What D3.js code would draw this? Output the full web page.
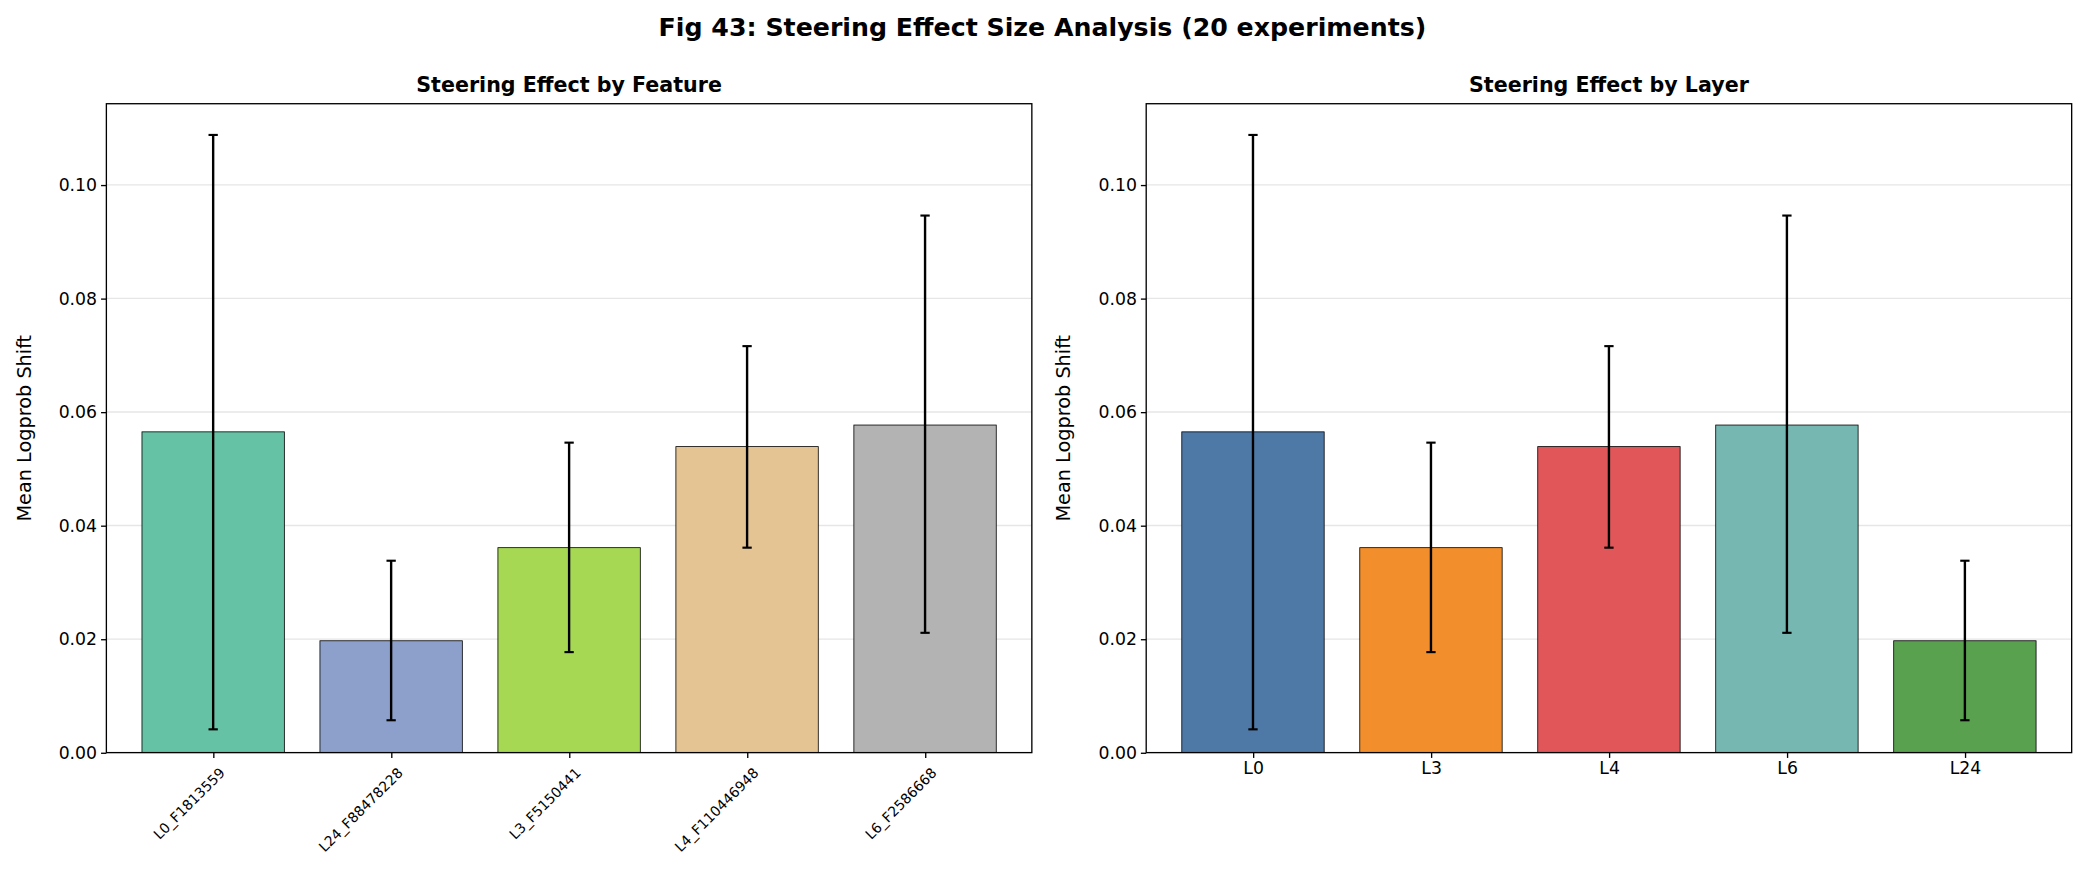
<!DOCTYPE html><html><head><meta charset="utf-8"><script src="https://cdn.jsdelivr.net/npm/d3@7"></script>
<style>body{margin:0;background:#fff;font-family:"DejaVu Sans",sans-serif}</style></head><body><svg id="c" width="2085" height="889"></svg>
<script>
const featureNames=["L0_F1813559","L24_F88478228","L3_F5150441","L4_F110446948","L6_F2586668"];
const featureMeans=[0.0565,0.0197,0.0361,0.0539,0.0577];
const featureLo=[0.0041,0.0057,0.0177,0.0361,0.0211];
const featureHi=[0.1088,0.0338,0.0546,0.0716,0.0946];
const featureColors=["#66c2a5","#8da0cb","#a6d854","#e5c494","#b3b3b3"];
const layerNames=["L0","L3","L4","L6","L24"];
const layerMeans=[0.0565,0.0361,0.0539,0.0577,0.0197];
const layerLo=[0.0041,0.0177,0.0361,0.0211,0.0057];
const layerHi=[0.1088,0.0546,0.0716,0.0946,0.0338];
const layerColors=["#4e79a7","#f28e2b","#e15759","#76b7b2","#59a14f"];
const yTicks=[0,0.02,0.04,0.06,0.08,0.10];
const root=d3.select("#c").append("g").attr("transform","scale(1.3297)");
const svg=root;
svg.append("text").attr("x",784).attr("y",27).attr("text-anchor","middle").attr("font-size",19).attr("font-weight","bold").text("Fig 43: Steering Effect Size Analysis (20 experiments)");
function panel(x0,title,names,means,lo,hi,colors,rot){
  const w=696,top=78,bot=566;
  const g=svg.append("g");
  const x=d3.scaleLinear().domain([-0.6,names.length-0.4]).range([x0,x0+w]);
  const y=d3.scaleLinear().domain([0,0.1143]).range([bot,top]);
  g.selectAll(".gl").data(yTicks).join("line").attr("x1",x0).attr("x2",x0+w).attr("y1",d=>y(d)).attr("y2",d=>y(d)).attr("stroke","#e6e6e6").attr("stroke-width",1);
  g.selectAll(".b").data(means).join("rect").attr("x",(d,i)=>x(i-0.4)).attr("width",x(0.4)-x(-0.4)).attr("y",d=>y(d)).attr("height",d=>bot-y(d)).attr("fill",(d,i)=>colors[i]).attr("stroke","#000").attr("stroke-width",0.6);
  names.forEach((n,i)=>{
    const cx=x(i);
    g.append("line").attr("x1",cx).attr("x2",cx).attr("y1",y(lo[i])).attr("y2",y(hi[i])).attr("stroke","#000").attr("stroke-width",1.8);
    [lo[i],hi[i]].forEach(v=>g.append("line").attr("x1",cx-3.5).attr("x2",cx+3.5).attr("y1",y(v)).attr("y2",y(v)).attr("stroke","#000").attr("stroke-width",1.6));
  });
  g.append("rect").attr("x",x0).attr("y",top).attr("width",w).attr("height",bot-top).attr("fill","none").attr("stroke","#000").attr("stroke-width",1);
  const ya=g.append("g").attr("transform",`translate(${x0},0)`).call(d3.axisLeft(y).tickValues(yTicks).tickFormat(d3.format(".2f")).tickSize(4).tickSizeOuter(0));
  ya.select(".domain").remove();ya.selectAll("text").attr("font-size",13).attr("font-family","DejaVu Sans").attr("fill","#000");
  const xa=g.append("g").attr("transform",`translate(0,${bot})`).call(d3.axisBottom(x).tickValues(d3.range(names.length)).tickFormat(i=>names[i]).tickSize(4).tickSizeOuter(0));
  xa.select(".domain").remove();
  if(rot){xa.selectAll("text").attr("font-size",10.5).attr("text-anchor","end").attr("dx","0").attr("dy","0").attr("transform","translate(4,11) rotate(-45)");}
  else xa.selectAll("text").attr("font-size",13);
  xa.selectAll("text").attr("font-family","DejaVu Sans").attr("fill","#000");
  g.append("text").attr("x",x0+w/2).attr("y",69).attr("text-anchor","middle").attr("font-size",15.5).attr("font-weight","bold").text(title);
  g.append("text").attr("transform",`translate(${x0-57},${(top+bot)/2}) rotate(-90)`).attr("text-anchor","middle").attr("font-size",14.5).text("Mean Logprob Shift");
}
panel(80,"Steering Effect by Feature",featureNames,featureMeans,featureLo,featureHi,featureColors,true);
panel(862,"Steering Effect by Layer",layerNames,layerMeans,layerLo,layerHi,layerColors,false);
</script></body></html>
